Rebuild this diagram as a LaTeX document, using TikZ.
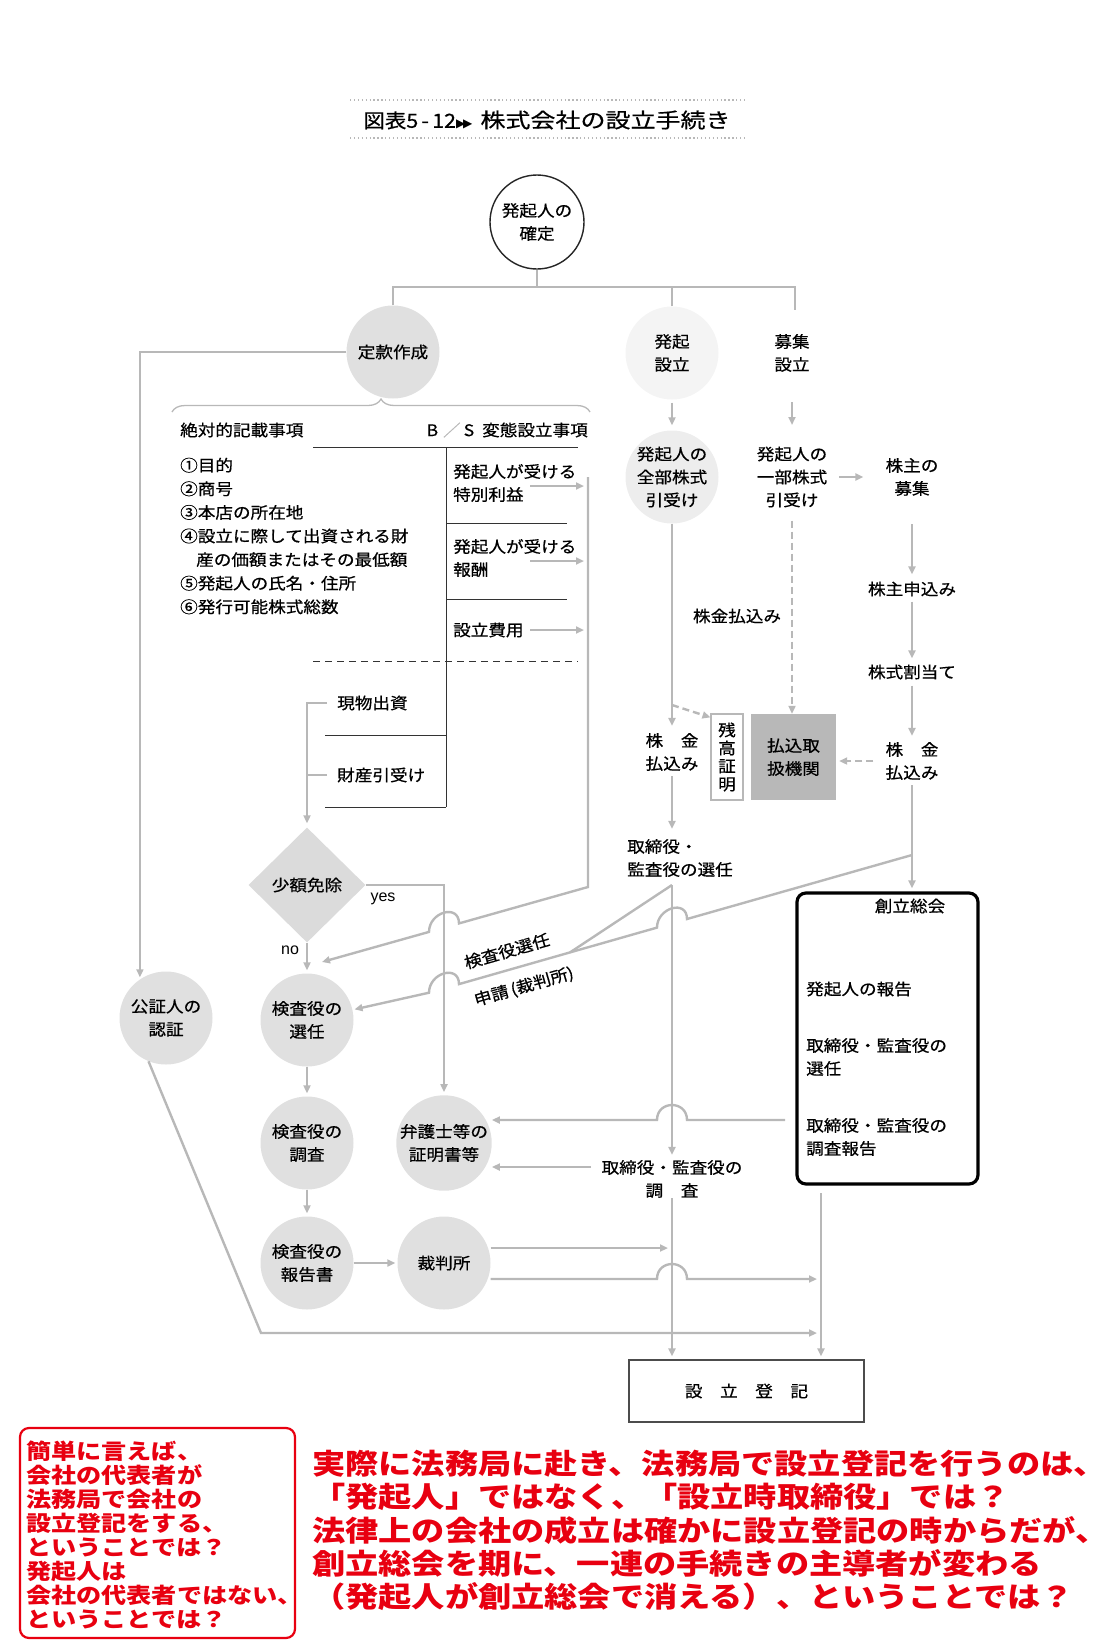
\documentclass[tikz,border=0pt]{standalone}
\usepackage{fontspec}
\newfontfamily\jp[FakeStretch=1.1,FakeBold=0.6]{Noto Sans CJK JP}
\newfontfamily\jpttl[FakeStretch=1.22,FakeBold=0.6]{Noto Sans CJK JP}
\newfontfamily\jpred[FakeStretch=1.165]{Noto Sans CJK JP}
\newfontfamily\jpredL[FakeStretch=1.17]{Noto Sans CJK JP}
\newfontfamily\jplat{Liberation Sans}
\newfontfamily\jpsym{DejaVu Sans}
\usetikzlibrary{arrows.meta,shapes.geometric,decorations.pathreplacing}
\definecolor{lngray}{gray}{0.72}
\definecolor{ballgray}{gray}{0.88}
\definecolor{pale}{gray}{0.93}
\definecolor{paler}{gray}{0.955}
\definecolor{boxgray}{gray}{0.72}
\definecolor{memo}{RGB}{232,0,16}
\tikzset{every node/.append style={inner sep=0pt,font=\jp\fontsize{16}{23}\selectfont}}

\begin{document}
\begin{tikzpicture}[x=1pt,y=-1pt,
  link/.style={draw=lngray,line width=2.4pt},
  flow/.style={link,-{Triangle[length=8pt,width=7pt]}},
  dflow/.style={flow,dash pattern=on 7pt off 4pt},
  rule/.style={draw=black!80,line width=0.9pt},
  ball/.style={circle,fill=#1,minimum size=93pt,align=center},
  ball/.default=ballgray,
  hop/.style={to path={.. controls +(0,-20) and +(0,-20) .. (\tikztotarget)}},
  memo/.style={text=memo,align=left,anchor=north west}]
\useasboundingbox (0,0) rectangle (1115,1647);

\node[font=\jpttl\fontsize{20.5}{24}\selectfont] (title) at (547,120) {{\jp\fontsize{19.5}{22}\selectfont 図表5\,-\,12}{\jpsym\fontsize{12}{14}\selectfont ▶\kern-2pt▶}\hspace{8pt}株式会社の設立手続き};
\draw[lngray,line width=1.3pt,dash pattern=on 1.3pt off 2.6pt] (350,100) -- (746,100) (350,138) -- (746,138);

\node[circle,draw=black!85,line width=1.4pt,minimum size=94pt,align=center] (kakutei) at (537,222) {発起人の\\確定};
\node[ball] (teikan) at (393,352) {定款作成};
\node[ball=paler] (hokiset) at (672,353) {発起\\設立};
\node[align=center] (boset) at (792,353) {募集\\設立};
\node[ball=pale] (zenbu) at (672,477) {発起人の\\全部株式\\引受け};
\node[align=center] (ichibu) at (792,477) {発起人の\\一部株式\\引受け};
\node[align=center] (kboshu) at (912,477) {株主の\\募集};
\node (moshi) at (912,589) {株主申込み};
\node (wariate) at (912,672) {株式割当て};
\node[align=center] (rkin) at (912,761) {株　金\\払込み};
\node[align=center] (lkin) at (672,752) {株　金\\払込み};
\node (kinlbl) at (737,616) {株金払込み};
\node[fill=boxgray,minimum width=85pt,minimum height=86pt,align=center] (kikan) at (793.5,757) {払込取\\扱機関};
\node[draw=lngray,line width=1.2pt,fill=white,minimum width=32pt,minimum height=86pt,align=center,font=\jp\fontsize{16}{18}\selectfont] (zanko) at (727,757) {残\\高\\証\\明};
\node[align=left,anchor=west] (torisen) at (627,858) {取締役・\\監査役の選任};

\node[anchor=west] (zettai) at (180,430) {絶対的記載事項};
\node[anchor=east] (hentai) at (588,430) {B\hspace{5pt}{\color{lngray}／}\hspace{3pt}S\hspace{8pt}変態設立事項};
\node[anchor=west,align=left,font=\jp\fontsize{16}{23.6}\selectfont] (items) at (180,536) {①目的\\②商号\\③本店の所在地\\④設立に際して出資される財\\\hspace*{1em}産の価額またはその最低額\\⑤発起人の氏名・住所\\⑥発行可能株式総数};
\node[anchor=west,align=left] (tokubetsu) at (453,483) {発起人が受ける\\特別利益};
\node[anchor=west,align=left] (hoshu) at (453,558) {発起人が受ける\\報酬};
\node[anchor=west] (hiyo) at (453,630) {設立費用};
\node[anchor=west] (genbutsu) at (337,703) {現物出資};
\node[anchor=west] (zaisan) at (337,775) {財産引受け};

\node[diamond,fill=gray!28,minimum width=117pt,minimum height=115pt] (shogaku) at (307,885) {少額免除};
\node[font=\jplat\fontsize{16}{18}\selectfont] (yes) at (383,899) {yes};
\node[font=\jplat\fontsize{16}{18}\selectfont] (no) at (290,950) {no};
\node[ball] (kosho) at (166,1018) {公証人の\\認証};
\node[ball] (senin) at (307,1020) {検査役の\\選任};
\node[ball] (kchosa) at (307,1143) {検査役の\\調査};
\node[ball] (hokoku) at (307,1263) {検査役の\\報告書};
\node[ball] (bengo) at (444,1143) {弁護士等の\\証明書等};
\node[ball] (saiban) at (444,1263) {裁判所};
\node[rotate=16] (senlbl) at (507,951) {検査役選任};
\node[rotate=16] (shinsei) at (524,987) {申請\,(裁判所)};
\node[align=center] (chosa) at (672,1179) {取締役・監査役の\\調　査};
\node[draw=black,line width=3.2pt,rounded corners=9pt,minimum width=181pt,minimum height=291pt] (sokai) at (887.5,1038.5) {};
\node (sokaiT) at (910,906) {創立総会};
\node[anchor=west] (s1) at (806,989) {発起人の報告};
\node[anchor=west,align=left] (s2) at (806,1057) {取締役・監査役の\\選任};
\node[anchor=west,align=left] (s3) at (806,1137) {取締役・監査役の\\調査報告};
\node[draw=black!70,line width=1.3pt,minimum width=235pt,minimum height=62pt] (toki) at (746.5,1391) {設　立　登　記};

\node[draw=memo,line width=2.2pt,rounded corners=9pt,minimum width=275pt,minimum height=210pt] (memobox) at (157.5,1533) {};
\node[memo,font=\jpredL\bfseries\fontsize{21.5}{24}\selectfont] (memoL) at (26,1441) {簡単に言えば、\\会社の代表者が\\法務局で会社の\\設立登記をする、\\ということでは？\\発起人は\\会社の代表者ではない、\\ということでは？};
\node[memo,font=\jpred\bfseries\fontsize{28.5}{33.3}\selectfont] (memoR) at (312,1450) {実際に法務局に赴き、法務局で設立登記を行うのは、\\「発起人」ではなく、「設立時取締役」では？\\法律上の会社の成立は確かに設立登記の時からだが、\\創立総会を期に、一連の手続きの主導者が変わる\\（発起人が創立総会で消える）、ということでは？};

\coordinate (bar) at (537,287);
\draw[link] (kakutei) -- (bar);
\draw[link] (teikan) |- (bar) -| (795,310);
\draw[link] (hokiset) -- (hokiset |- bar);
\draw[lngray,line width=1.3pt,decorate,decoration={brace,amplitude=13pt}] (172,412) -- (590,412);

\draw[flow,shorten <=3pt,shorten >=5pt] (hokiset) -- (zenbu);
\draw[flow] (boset.south |- 0,402) -- (ichibu.north |- 0,425);
\draw[flow,shorten <=12pt,shorten >=22pt] (ichibu) -- (kboshu);
\draw[flow,shorten <=28pt,shorten >=7pt] (kboshu) -- (moshi);
\draw[flow,shorten <=5pt,shorten >=6pt] (moshi) -- (wariate);
\draw[flow,shorten <=6pt,shorten >=6pt] (wariate) -- (rkin);
\draw[dflow,shorten <=12pt,shorten >=3pt] (rkin.west) -- (kikan.east |- rkin.west);
\draw[dflow,shorten <=13pt] (ichibu) -- (ichibu |- kikan.north);
\draw[flow,shorten >=7pt] (zenbu) -- (lkin);
\coordinate (zj) at (672,705);
\draw[dflow] (zj) -- ([yshift=-4pt]zanko.north west);
\draw[flow,shorten <=5pt,shorten >=10pt] (lkin) -- (lkin |- torisen.north);
\draw[flow,shorten <=5pt,shorten >=3pt] (rkin) -- (rkin |- sokai.north);

\draw[rule] (313,447) -- (578,447) (446,447) -- (446,807) (446,523) -- (567,523) (446,599) -- (567,599) (325,735) -- (446,735) (325,807) -- (446,807);
\draw[rule,dash pattern=on 7pt off 5pt] (313,661) -- (578,661);
\coordinate (a0) at (588,477);
\coordinate (a1) at (588,887);
\coordinate (a2) at (322,962);
\draw[flow,shorten >=4pt] (530,486) -- (a0 |- 0,486);
\draw[flow,shorten >=4pt] (530,561) -- (a0 |- 0,561);
\draw[flow,shorten >=4pt] (530,630) -- (a0 |- 0,630);
\draw[flow] (a0) -- (a1) -- (459,923.4) to[hop] (429,931.9) -- (a2);
\draw[flow,shorten >=4pt] ([xshift=-10pt]genbutsu.west) -| (shogaku.north);
\draw[link] ([xshift=-10pt]zaisan.west) -- (zaisan.west -| shogaku.north);

\draw[flow,shorten >=3pt] (shogaku.east) -| (bengo.north);
\draw[flow,shorten >=3pt] (shogaku.south) -- (senin.north);
\draw[flow,shorten >=2pt] (teikan.west) -| (kosho.124);

\coordinate (b0) at (912,855);
\coordinate (bj) at (570,952.4);
\coordinate (ts) at (672,885);
\draw[flow,shorten >=2pt] (b0) -- (687,919.0) to[hop] (657,927.6) -- (bj) -- (459,984.1) to[hop] (429,992.7) -- (senin);
\draw[link] (ts) -- (bj);
\draw[flow,shorten >=5pt] (ts) -- (chosa.north);

\draw[flow,shorten >=3pt] (senin) -- (kchosa);
\draw[flow,shorten >=3pt] (kchosa) -- (hokoku);
\draw[flow,shorten >=2pt] (hokoku) -- (saiban);

\coordinate (sk) at (785,1120);
\coordinate (cw) at (591,1167);
\coordinate (tx) at (821,1193);
\coordinate (kb) at (261,1333);
\draw[flow] (sk) -- (687,1120) to[hop] (657,1120) -- (bengo.east |- sk);
\draw[flow] (cw) -- (bengo.east |- cw);
\draw[flow,shorten >=4pt] (saiban.east |- 0,1248) -- (chosa.south |- 0,1248);
\draw[flow,shorten >=4pt] (saiban.east |- 0,1279) -- (657,1279) to[hop] (687,1279) -- (tx |- 0,1279);
\draw[flow,shorten >=4pt] (kosho.-112) -- (kb) -- (kb -| tx);
\draw[flow,shorten >=3pt] (chosa.south) -- (chosa.south |- toki.north);
\draw[flow,shorten >=3pt] (tx) -- (tx |- toki.north);
\end{tikzpicture}
\end{document}
